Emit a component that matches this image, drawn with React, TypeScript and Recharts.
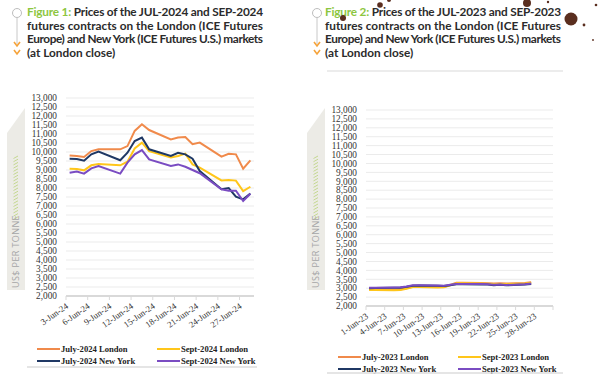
import React from 'react';
import { LineChart, Line, XAxis, YAxis, CartesianGrid } from 'recharts';

// ---------- Data ----------
const DAYS_2024 = [3, 4, 5, 6, 7, 10, 11, 12, 13, 14, 17, 18, 19, 20, 21, 24, 25, 26, 27, 28];
const JUL24_LONDON = [9800, 9780, 9720, 10050, 10150, 10150, 10330, 11170, 11540, 11220, 10700, 10800, 10830, 10430, 10520, 9740, 9900, 9870, 9070, 9540];
const SEP24_LONDON = [9070, 9050, 8980, 9260, 9330, 9260, 9460, 10200, 10520, 10050, 9690, 9780, 9910, 9310, 9130, 8420, 8440, 8410, 7830, 8070];
const JUL24_NY = [9620, 9610, 9520, 9870, 10020, 9540, 9960, 10610, 10800, 10150, 9780, 9960, 9870, 9630, 8940, 7930, 8000, 7520, 7370, 7700];
const SEP24_NY = [8850, 8920, 8800, 9090, 9220, 8800, 9410, 9870, 10110, 9590, 9220, 9310, 9180, 9000, 8820, 7930, 7850, 7850, 7280, 7680];

const DAYS_2023 = [1, 2, 5, 6, 7, 8, 9, 12, 13, 14, 15, 16, 19, 20, 21, 22, 23, 26, 27];
const JUL23_LONDON = [2930, 2930, 2920, 2930, 3000, 3080, 3080, 3060, 3070, 3180, 3300, 3300, 3290, 3280, 3260, 3270, 3260, 3290, 3340];
const SEP23_LONDON = [2900, 2900, 2890, 2900, 2970, 3060, 3060, 3040, 3050, 3160, 3270, 3270, 3260, 3250, 3230, 3240, 3230, 3260, 3310];
const JUL23_NY = [3000, 3010, 3020, 3030, 3080, 3140, 3150, 3130, 3120, 3170, 3220, 3220, 3210, 3200, 3170, 3190, 3160, 3200, 3240];
const SEP23_NY = [3020, 3030, 3040, 3050, 3100, 3160, 3170, 3150, 3140, 3190, 3240, 3240, 3230, 3220, 3190, 3210, 3180, 3220, 3260];

const Y_TICKS = [2000, 2500, 3000, 3500, 4000, 4500, 5000, 5500, 6000, 6500, 7000, 7500, 8000, 8500, 9000, 9500, 10000, 10500, 11000, 11500, 12000, 12500, 13000];
const X_TICKS_2024 = [2.5, 5.5, 8.5, 11.5, 14.5, 17.5, 20.5, 23.5, 26.5];
const X_TICKS_2023 = [0.5, 3.5, 6.5, 9.5, 12.5, 15.5, 18.5, 21.5, 24.5, 27.5, 30.5];

const SERIES_KEYS = ['julLondon', 'sepLondon', 'julNY', 'sepNY'];
const SERIES_COLORS = ['#F08A4B', '#FFC61A', '#1F3864', '#7A4CC2'];
const LEGEND_2024 = ['July-2024 London', 'Sept-2024 London', 'July-2024 New York', 'Sept-2024 New York'];
const LEGEND_2023 = ['July-2023 London', 'Sept-2023 London', 'July-2023 New York', 'Sept-2023 New York'];

const TITLE_1_LINES = [
  'Prices of the JUL-2024 and SEP-2024',
  'futures contracts on the London (ICE Futures',
  'Europe) and New York (ICE Futures U.S.) markets',
  '(at London close)',
];
const TITLE_2_LINES = [
  'Prices of the JUL-2023 and SEP-2023',
  'futures contracts on the London (ICE Futures',
  'Europe) and New York (ICE Futures U.S.) markets',
  '(at London close)',
];

const build = (days: number[], a: number[], b: number[], c: number[], d: number[]) =>
  days.map((day, i) => ({ day, julLondon: a[i], sepLondon: b[i], julNY: c[i], sepNY: d[i] }));

const DATA_2024 = build(DAYS_2024, JUL24_LONDON, SEP24_LONDON, JUL24_NY, SEP24_NY);
const DATA_2023 = build(DAYS_2023, JUL23_LONDON, SEP23_LONDON, JUL23_NY, SEP23_NY);

const fmt = (v: number) => v.toLocaleString('en-US');
const SERIF = "'Liberation Serif', 'Times New Roman', serif";

const makeTick = (suffix: string, maxDay: number) => (props: any) => {
  const { x, y, payload } = props;
  const day = Math.round(payload.value + 0.5);
  if (day > maxDay) return <g />;
  return (
    <text
      x={x + 1}
      y={y}
      transform={`rotate(-35 ${x + 1} ${y})`}
      textAnchor="end"
      dy="0.35em"
      fontSize={8.8}
      fontFamily={SERIF}
      fill="#333"
    >
      {`${day}-Jun-${suffix}`}
    </text>
  );
};

const Chart = ({ data, domain, ticks, suffix, maxDay, top, right, bottom }: any) => (
  <LineChart width={300} height={384} data={data} margin={{ top, right, bottom, left: 0 }}>
    <CartesianGrid vertical={false} stroke="#ebebeb" />
    <XAxis
      type="number"
      dataKey="day"
      domain={domain}
      ticks={ticks}
      interval={0}
      height={30}
      tickSize={4}
      tickMargin={5}
      axisLine={{ stroke: '#d9d9d9', strokeWidth: 2 }}
      tickLine={{ stroke: '#d9d9d9' }}
      tick={makeTick(suffix, maxDay)}
      allowDataOverflow
    />
    <YAxis
      width={66}
      domain={[2000, 13000]}
      ticks={Y_TICKS}
      interval={0}
      axisLine={false}
      tickLine={false}
      tickMargin={3}
      tickFormatter={fmt}
      tick={{ fontSize: 9.3, fontFamily: SERIF, fill: '#333' }}
    />
    {SERIES_KEYS.map((k, i) => (
      <Line key={k} dataKey={k} stroke={SERIES_COLORS[i]} strokeWidth={2} dot={false} isAnimationActive={false} />
    ))}
  </LineChart>
);

const Decor = ({ ox }: { ox: number }) => {
  const hatch = [];
  for (let y = 156; y < 218; y += 3.2) {
    hatch.push(<line key={y} x1={ox + 13.5} y1={y + 2.5} x2={ox + 18} y2={y} stroke="#b9d27a" strokeWidth={0.8} />);
  }
  return (
    <g>
      <circle cx={ox + 17} cy={13} r={4.5} fill="#fff" stroke="#bdbdbd" strokeWidth={1} />
      <line x1={ox + 17} y1={17.5} x2={ox + 17} y2={44} stroke="#c8c8c8" strokeWidth={1} />
      <polyline points={`${ox + 14},${42} ${ox + 17},${46} ${ox + 20},${42}`} fill="none" stroke="#F5A33A" strokeWidth={1.6} />
      <polyline points={`${ox + 14},${50} ${ox + 17},${54} ${ox + 20},${50}`} fill="none" stroke="#F5A33A" strokeWidth={1.6} />
      <polygon points={`${ox + 7},133 ${ox + 25},108 ${ox + 25},290 ${ox + 7},290`} fill="#ecebe6" />
      {hatch}
      <text
        x={ox + 16}
        y={288}
        transform={`rotate(-90 ${ox + 16} 288)`}
        dy="0.35em"
        fontSize={9}
        fontFamily="'Open Sans', sans-serif"
        fill="#a6a6a6"
        letterSpacing={0.4}
      >
        US$ PER TONNE
      </text>
    </g>
  );
};

const Title = ({ ox, fig, lines }: { ox: number; fig: string; lines: string[] }) => (
  <g fontFamily="Lato, 'Open Sans', sans-serif" fontWeight={700} fontSize={11.8} fill="#2b2b2b">
    {lines.map((ln, i) => {
      const y = 16 + i * 13.6;
      const last = i === lines.length - 1;
      return (
        <text key={i} x={ox} y={y} textLength={last ? undefined : 236} lengthAdjust={last ? undefined : 'spacing'}>
          {i === 0 ? <tspan fill="#8DC63F">{fig} </tspan> : null}
          {ln}
        </text>
      );
    })}
  </g>
);

const Legend2 = ({ ox, oy, labels }: { ox: number; oy: number; labels: string[] }) => (
  <g>
    {labels.map((lab, i) => {
      const col = i % 2;
      const row = Math.floor(i / 2);
      const x = ox + col * 120;
      const y = oy + row * 12;
      return (
        <g key={lab}>
          <line x1={x} y1={y} x2={x + 23} y2={y} stroke={SERIES_COLORS[i]} strokeWidth={2} />
          <text x={x + 24} y={y} dy="0.35em" fontSize={8.6} fontWeight="bold" fontFamily={SERIF} fill="#222">
            {lab}
          </text>
        </g>
      );
    })}
  </g>
);

export default function App() {
  return (
    <div style={{ position: 'absolute', left: 0, top: 0, width: 600, height: 384, background: '#fff', overflow: 'hidden' }}>
      <svg width={600} height={384} style={{ position: 'absolute', left: 0, top: 0 }}>
        <Decor ox={0} />
        <Decor ox={300} />
        <Title ox={27} fig="Figure 1:" lines={TITLE_1_LINES} />
        <Title ox={325} fig="Figure 2:" lines={TITLE_2_LINES} />
        <line x1={327} y1={71} x2={563} y2={71} stroke="#d9d9d9" strokeWidth={1} />
        <Legend2 ox={37} oy={349} labels={LEGEND_2024} />
        <Legend2 ox={338} oy={357} labels={LEGEND_2023} />
        <line x1={27} y1={367} x2={257} y2={367} stroke="#dcdcdc" strokeWidth={1.5} />
        <line x1={327} y1={373} x2={563} y2={373} stroke="#dcdcdc" strokeWidth={1.5} />
        {/* cocoa splatter decoration */}
        <circle cx={343} cy={18} r={3} fill="#5a2e1f" />
        <circle cx={380} cy={5} r={2.8} fill="#5a2e1f" />
        <circle cx={389} cy={0} r={2} fill="#5a2e1f" />
        <circle cx={527} cy={3} r={4} fill="#5a2e1f" />
        <circle cx={571} cy={19} r={6.5} fill="#5a2e1f" />
        <circle cx={584} cy={25} r={1.4} fill="#5a2e1f" />
        <circle cx={596} cy={5} r={1.3} fill="#5a2e1f" />
        <circle cx={593} cy={40} r={0.9} fill="#5a2e1f" />
        <circle cx={548} cy={2} r={1.2} fill="#5a2e1f" />
      </svg>
      <div style={{ position: 'absolute', left: 0, top: 0 }}>
        <Chart data={DATA_2024} domain={[2.5, 28.5]} ticks={X_TICKS_2024} suffix="24" maxDay={27} top={98} right={46} bottom={58} />
      </div>
      <div style={{ position: 'absolute', left: 300, top: 0 }}>
        <Chart data={DATA_2023} domain={[0.5, 30.5]} ticks={X_TICKS_2023} suffix="23" maxDay={28} top={110} right={47} bottom={48} />
      </div>
    </div>
  );
}
